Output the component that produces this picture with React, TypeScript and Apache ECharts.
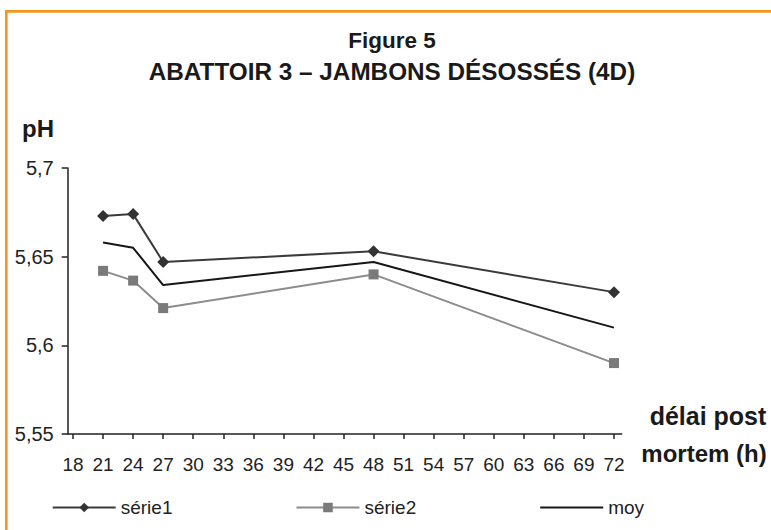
import React, { useEffect, useRef } from "react";
import * as echarts from "echarts";

const hours = [21, 24, 27, 48, 72];
const serie1 = [5.673, 5.674, 5.647, 5.653, 5.63];
const serie2 = [5.642, 5.6365, 5.621, 5.64, 5.59];
const moy = [5.658, 5.655, 5.634, 5.647, 5.61];
const xTickValues = [18, 21, 24, 27, 30, 33, 36, 39, 42, 45, 48, 51, 54, 57, 60, 63, 66, 69, 72];
const seriesNames = ["série1", "série2", "moy"];
const titleLines = ["Figure 5", "ABATTOIR 3 – JAMBONS DÉSOSSÉS (4D)"];
const yAxisTitle = "pH";
const xAxisTitleLines = ["délai post", "mortem (h)"];

const FONT = '"Liberation Sans", Arial, Helvetica, sans-serif';

export default function App() {
  const ref = useRef<HTMLDivElement>(null);
  useEffect(() => {
    if (!ref.current) return;
    const chart = echarts.init(ref.current, undefined, { renderer: "svg" });
    const pts = (ys: number[]) => hours.map((h, i) => [h, ys[i]]);
    chart.setOption({
      animation: false,
      backgroundColor: "#ffffff",
      textStyle: { fontFamily: FONT },
      grid: { left: 67.7, right: 149.3, top: 168, bottom: 96, containLabel: false },
      legend: {
        left: 51.7,
        top: 498,
        padding: 0,
        itemWidth: 63,
        itemHeight: 12,
        itemGap: 123,
        data: [
          { name: seriesNames[0] },
          { name: seriesNames[1] },
          { name: seriesNames[2], itemStyle: { color: "rgba(0,0,0,0)", borderColor: "rgba(0,0,0,0)", opacity: 0 } },
        ],
        textStyle: { fontFamily: FONT, fontSize: 19, color: "#222" },
      },
      xAxis: {
        type: "value",
        min: 17.47,
        max: 72.77,
        splitLine: { show: false },
        axisLine: { lineStyle: { color: "#222", width: 1.5 } },
        axisTick: { show: true, length: 5, lineStyle: { color: "#222", width: 1.5 }, customValues: xTickValues },
        axisLabel: {
          customValues: xTickValues,
          margin: 21,
          fontSize: 19,
          color: "#222",
          fontFamily: FONT,
        },
      },
      yAxis: {
        type: "value",
        min: 5.55,
        max: 5.7,
        interval: 0.05,
        splitLine: { show: false },
        axisLine: { show: true, lineStyle: { color: "#222", width: 1.5 } },
        axisTick: { show: true, length: 6, lineStyle: { color: "#222", width: 1.5 } },
        axisLabel: {
          margin: 14,
          fontSize: 20,
          color: "#222",
          fontFamily: FONT,
          formatter: (v: number) => String(+v.toFixed(2)).replace(".", ","),
        },
      },
      series: [
        {
          name: seriesNames[0],
          type: "line",
          data: pts(serie1),
          symbol: "diamond",
          symbolSize: 12,
          lineStyle: { color: "#3a3a3a", width: 2 },
          itemStyle: { color: "#333333" },
        },
        {
          name: seriesNames[1],
          type: "line",
          data: pts(serie2),
          symbol: "rect",
          symbolSize: 10,
          lineStyle: { color: "#8c8c8c", width: 2 },
          itemStyle: { color: "#7a7a7a" },
        },
        {
          name: seriesNames[2],
          type: "line",
          data: pts(moy),
          symbol: "none",
          lineStyle: { color: "#161616", width: 2 },
          itemStyle: { color: "#161616" },
        },
      ],
      graphic: [
        { type: "rect", left: 5, top: 10, shape: { width: 766, height: 2.8 }, style: { fill: "#f7941d" }, z: 10 },
        { type: "rect", left: 5, top: 10, shape: { width: 2.6, height: 520 }, style: { fill: "#f7941d" }, z: 10 },
        {
          type: "text",
          x: 392,
          y: 40,
          style: { text: titleLines[0], fontSize: 22.5, fontWeight: "bold", fontFamily: FONT, fill: "#1a1a1a", align: "center", verticalAlign: "middle" },
        },
        {
          type: "text",
          x: 392,
          y: 71,
          style: { text: titleLines[1], fontSize: 24.3, fontWeight: "bold", fontFamily: FONT, fill: "#1a1a1a", align: "center", verticalAlign: "middle" },
        },
        {
          type: "text",
          x: 22,
          y: 128,
          style: { text: yAxisTitle, fontSize: 24, fontWeight: "bold", fontFamily: FONT, fill: "#1a1a1a", align: "left", verticalAlign: "middle" },
        },
        {
          type: "text",
          x: 708,
          y: 415.6,
          style: { text: xAxisTitleLines[0], fontSize: 25, fontWeight: "bold", fontFamily: FONT, fill: "#1a1a1a", align: "center", verticalAlign: "middle" },
        },
        {
          type: "text",
          x: 704,
          y: 453.3,
          style: { text: xAxisTitleLines[1], fontSize: 24, fontWeight: "bold", fontFamily: FONT, fill: "#1a1a1a", align: "center", verticalAlign: "middle" },
        },
      ],
    });
    return () => chart.dispose();
  }, []);
  return (
    <div
      ref={ref}
      style={{ position: "fixed", left: 0, top: 0, width: 771, height: 530, background: "#fff" }}
    />
  );
}
